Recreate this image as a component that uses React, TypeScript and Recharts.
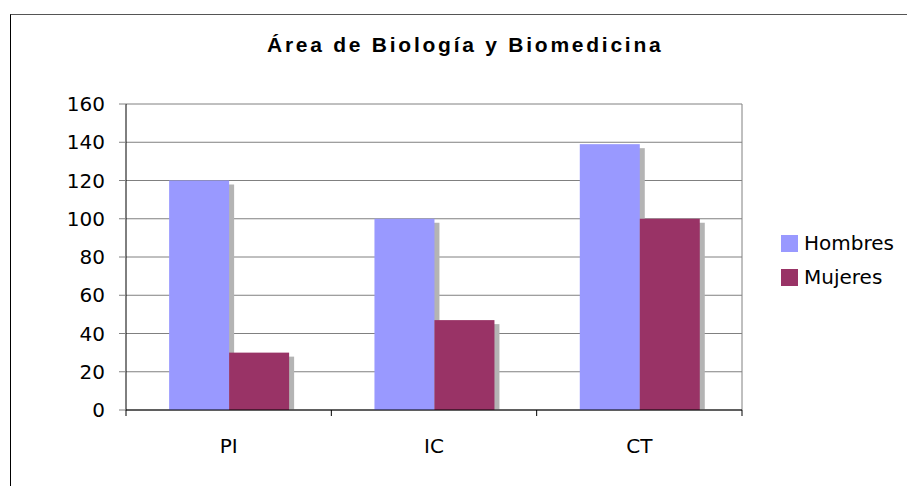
import {
  BarChart,
  Bar,
  XAxis,
  YAxis,
  CartesianGrid,
  Legend,
} from "recharts";

const categories = ["PI", "IC", "CT"];
const hombres = [120, 100, 139];
const mujeres = [30, 47, 100];
const yTicks = [0, 20, 40, 60, 80, 100, 120, 140, 160];

const data = categories.map((name, i) => ({
  name,
  Hombres: hombres[i],
  Mujeres: mujeres[i],
}));

const FONT = "'DejaVu Sans', Verdana, sans-serif";

// barra con sombra gris desplazada (estilo Excel)
const ShadowBar = (props: any) => {
  const { x, y, width, height, fill } = props;
  if (!height || height <= 0) return null;
  return (
    <g>
      <rect x={x + 5} y={y + 4} width={width} height={Math.max(height - 4, 0)} fill="#b4b4b4" />
      <rect x={x} y={y} width={width} height={height} fill={fill} />
    </g>
  );
};

// etiqueta de categoría + marcas en los límites de cada categoría
const CategoryTick = (props: any) => {
  const { x, y, payload, index, visibleTicksCount } = props;
  const half = payload?.offset ?? 102.7;
  const last = index === (visibleTicksCount ?? categories.length) - 1;
  return (
    <g>
      <line x1={x - half} y1={y} x2={x - half} y2={y + 6} stroke="#000" />
      {last && <line x1={x + half} y1={y} x2={x + half} y2={y + 6} stroke="#000" />}
      <text x={x} y={y + 43} textAnchor="middle" fontFamily={FONT} fontSize={20} fill="#000">
        {payload.value}
      </text>
    </g>
  );
};

const LegendBox = (props: any) => {
  const { payload } = props;
  return (
    <div style={{ fontFamily: FONT, fontSize: 20, color: "#000" }}>
      {(payload || []).map((p: any) => (
        <div key={p.value} style={{ display: "flex", alignItems: "center", height: 34 }}>
          <span style={{ width: 17, height: 17, background: p.color, marginRight: 6 }} />
          <span>{p.value}</span>
        </div>
      ))}
    </div>
  );
};

export default function App() {
  return (
    <div style={{ position: "relative", width: 915, height: 486, marginLeft: -8, marginTop: -8, background: "#fff" }}>
      {/* marco del gráfico */}
      <div
        style={{
          position: "absolute",
          left: 10,
          top: 14,
          right: -2,
          bottom: -2,
          borderLeft: "1px solid #000",
          borderTop: "1px solid #555",
        }}
      />
      <div
        style={{
          position: "absolute",
          left: 267,
          top: 34,
          fontFamily: "'Liberation Sans', Arial, sans-serif",
          fontWeight: "bold",
          fontSize: 21,
          lineHeight: "21px",
          letterSpacing: 2.75,
          whiteSpace: "nowrap",
          color: "#000",
        }}
      >
        Área de Biología y Biomedicina
      </div>
      <div style={{ position: "absolute", left: 0, top: 0 }}>
        <BarChart
          width={915}
          height={486}
          data={data}
          margin={{ top: 104, right: 173, bottom: 36, left: 66 }}
          barCategoryGap="21%"
          barGap={0}
        >
          <CartesianGrid
            stroke="#808080"
            verticalCoordinatesGenerator={({ offset }: any) => [offset.left + offset.width]}
          />
          <XAxis
            dataKey="name"
            height={40}
            axisLine={{ stroke: "#000" }}
            tickLine={false}
            tickSize={0}
            tickMargin={0}
            tick={<CategoryTick />}
            interval={0}
          />
          <YAxis
            width={60}
            domain={[0, 160]}
            ticks={yTicks}
            interval={0}
            axisLine={{ stroke: "#000" }}
            tickLine={{ stroke: "#808080" }}
            tickSize={7}
            tickMargin={14}
            tick={{ fontFamily: FONT, fontSize: 20, fill: "#000" }}
          />
          <Legend
            layout="vertical"
            align="center"
            verticalAlign="middle"
            content={<LegendBox />}
            wrapperStyle={{ left: 781, top: 226, width: 130 }}
          />
          <Bar dataKey="Hombres" fill="#9999FF" shape={<ShadowBar />} isAnimationActive={false} />
          <Bar dataKey="Mujeres" fill="#993366" shape={<ShadowBar />} isAnimationActive={false} />
        </BarChart>
      </div>
    </div>
  );
}
